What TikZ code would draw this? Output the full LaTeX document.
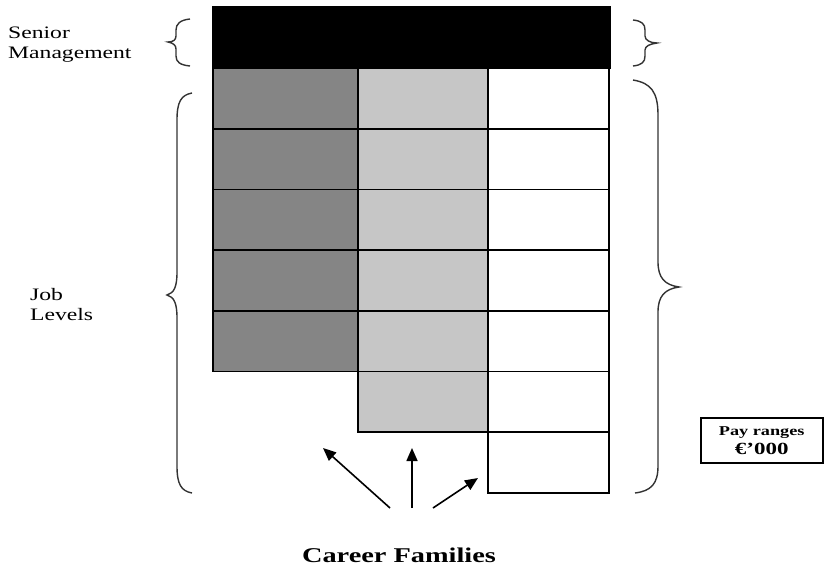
\documentclass[tikz,border=0pt]{standalone}
\usepackage{fontspec}
\setmainfont{Liberation Serif}[FakeStretch=1.35]
\usetikzlibrary{arrows.meta}
\definecolor{darkcell}{HTML}{858585}
\definecolor{lightcell}{HTML}{C6C6C6}
\definecolor{bracecol}{HTML}{333333}
\tikzset{
  cell/.style={draw=black, line width=1.8pt, inner sep=0pt, outer sep=0pt, anchor=north west, minimum height=60.7pt},
  colA/.style={cell, fill=darkcell, minimum width=145pt},
  colB/.style={cell, fill=lightcell, minimum width=130pt},
  colC/.style={cell, fill=white, minimum width=121pt},
  bracepath/.style={draw=bracecol, line width=1.4pt},
  label/.style={font=\fontsize{17.5}{20}\selectfont, align=left, anchor=north west, inner sep=0pt},
  famarrow/.style={line width=1.6pt, -{Triangle[length=13pt,width=11pt]}},
}
\begin{document}
\begin{tikzpicture}[x=1pt,y=-1pt]
\useasboundingbox (0,0) rectangle (825,568);
% senior management bar
\node[cell, fill=black, minimum width=397pt, minimum height=61pt] (senior) at (213,7) {};
% column A (dark)
\foreach \r in {1,...,5}{
  \node[colA] (a\r) at (213,{68+60.7*(\r-1)}) {};
}
% column B (light)
\foreach \r in {1,...,6}{
  \node[colB] (b\r) at (358,{68+60.7*(\r-1)}) {};
}
% column C (white)
\foreach \r in {1,...,7}{
  \node[colC] (c\r) at (488,{68+60.7*(\r-1)}) {};
}
% labels
\node[label] (lblsenior) at (8,27) {Senior\\Management};
\node[label] (lbljob) at (30,288) {Job\\Levels};
% braces
\draw[bracepath] (190,19) .. controls (180,20) and (176,24) .. (176,30) -- (176,36) .. controls (176,40) and (173,42) .. (168,42) .. controls (173,43) and (176,45) .. (176,49) -- (176,56) .. controls (176,62) and (180,65) .. (190,66);
\draw[bracepath] (633,20) .. controls (642,21) and (645,24) .. (645,30) -- (645,36) .. controls (645,40) and (650,43) .. (657,43) .. controls (650,44) and (645,46) .. (645,50) -- (645,56) .. controls (645,62) and (642,65) .. (633,66);
\draw[bracepath] (192,93) .. controls (181,95) and (177,102) .. (177,120) -- (177,272) .. controls (177,287) and (174,293) .. (167,295) .. controls (174,297) and (177,303) .. (177,318) -- (177,466) .. controls (177,484) and (181,491) .. (192,493);
\draw[bracepath] (633,80) .. controls (651,83) and (658,92) .. (658,115) -- (658,262) .. controls (658,278) and (665,285) .. (679,287) .. controls (665,289) and (658,296) .. (658,312) -- (658,466) .. controls (658,484) and (651,491) .. (635,493);
% pay ranges box
\node[draw=black, line width=1.5pt, minimum width=122pt, minimum height=45pt, inner sep=0pt, anchor=north west, align=center, font=\bfseries\fontsize{17}{19}\selectfont] (pay) at (700,417)
  {{\fontsize{13.5}{16}\selectfont Pay ranges}\\€’000};
% career families
\node[font=\bfseries\fontsize{21}{24}\selectfont, inner sep=0pt] (career) at (399,555) {Career Families};
\coordinate (tailL) at (390,508);
\coordinate (tailM) at (412,508);
\coordinate (tailR) at (433,508);
\coordinate (tipL) at (323,448);
\coordinate (tipM) at (412,448);
\coordinate (tipR) at (478,478);
\draw[famarrow] (tailL) -- (tipL);
\draw[famarrow] (tailM) -- (tipM);
\draw[famarrow] (tailR) -- (tipR);
\end{tikzpicture}
\end{document}
